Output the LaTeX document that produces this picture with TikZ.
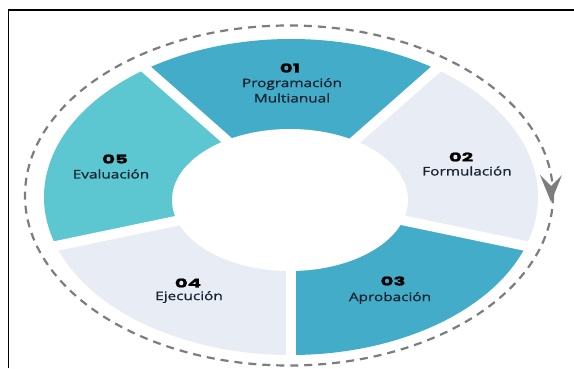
\documentclass[tikz,border=0pt]{standalone}
\usepackage{fontspec}
\usetikzlibrary{calc}
\newfontfamily\lblfont{Open Sans}[FakeStretch=1.3,FakeBold=0.8]
\newfontfamily\numfont{Poppins}[FakeStretch=1.65,FakeBold=1.5]
\definecolor{segblue}{RGB}{67,172,200}
\definecolor{segcyan}{RGB}{92,198,209}
\definecolor{seglight}{RGB}{232,236,244}
\definecolor{dashgray}{RGB}{125,125,125}
\definecolor{txtdark}{RGB}{22,34,48}
\tikzset{
  numtxt/.style={inner sep=0pt, font=\numfont\bfseries\fontsize{12}{14}\selectfont, text=black},
  lbltxt/.style={inner sep=0pt, font=\lblfont\fontsize{11.8}{14}\selectfont, text=txtdark},
  gapline/.style={white, line width=10pt},
}
\begin{document}
\begin{tikzpicture}[x=1pt,y=1pt]
\useasboundingbox (0,0) rectangle (574,368);
\fill[white] (0,0) rectangle (574,368);
% frame
\draw[black, line width=1.8pt] (8.5,0) -- (8.5,358) -- (574,358);
\coordinate (C) at (291,171);
% segments
\fill[segblue]  (C) -- ++(54:247pt and 158pt)  arc[start angle=54,  end angle=126, x radius=247pt, y radius=158pt] -- cycle;
\fill[seglight] (C) -- ++(-18:247pt and 158pt) arc[start angle=-18, end angle=54,  x radius=247pt, y radius=158pt] -- cycle;
\fill[segblue]  (C) -- ++(270:247pt and 158pt) arc[start angle=270, end angle=342, x radius=247pt, y radius=158pt] -- cycle;
\fill[seglight] (C) -- ++(198:247pt and 158pt) arc[start angle=198, end angle=270, x radius=247pt, y radius=158pt] -- cycle;
\fill[segcyan]  (C) -- ++(126:247pt and 158pt) arc[start angle=126, end angle=198, x radius=247pt, y radius=158pt] -- cycle;
% inner hole
\fill[white] (290,168) ellipse[x radius=118pt, y radius=71pt];
% gaps
\foreach \a in {270,342,54,126,198}
  \draw[gapline] (C) -- ++(\a:262pt and 168pt);
% dashed cycle
\coordinate (D) at (289,172.5);
\draw[dashgray, line width=2.2pt, dash pattern=on 8pt off 6pt] (D) ellipse[x radius=264pt, y radius=170pt];
\fill[dashgray] (551,166) -- (562,193) -- (551,182) -- (540,193) -- cycle;
% texts
\node[numtxt] (n1) at (290,300) {01};
\node[lbltxt] (l1a) at (292,284) {Programación};
\node[lbltxt] (l1b) at (292,270) {Multianual};
\node[numtxt] (n2) at (461,211) {02};
\node[lbltxt] (l2) at (467,197) {Formulación};
\node[numtxt] (n3) at (393,87) {03};
\node[lbltxt] (l3) at (390,70) {Aprobación};
\node[numtxt] (n4) at (188,85) {04};
\node[lbltxt] (l4) at (189,71) {Ejecución};
\node[numtxt] (n5) at (115,209) {05};
\node[lbltxt] (l5) at (111,194) {Evaluación};
\end{tikzpicture}
\end{document}
